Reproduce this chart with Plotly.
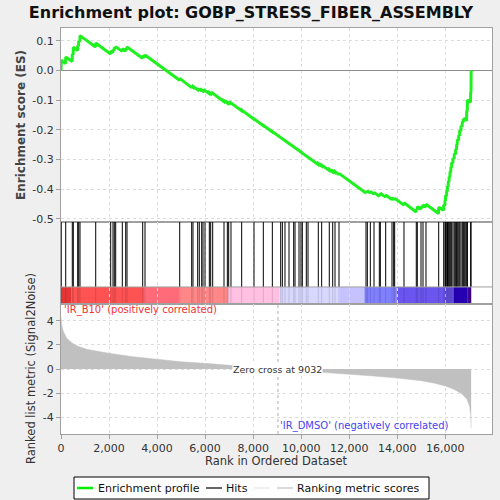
import plotly.graph_objects as go

TITLE = "Enrichment plot: GOBP_STRESS_FIBER_ASSEMBLY"
N_GENES = 17075
ZERO_CROSS = 9032

# Running enrichment score (rank, ES)
ES_RANK = [0, 10, 190, 196, 465, 470, 507, 512, 690, 695, 732, 737, 786, 791,
           1440, 1445, 2064, 2069, 2160, 2165, 2214, 2219, 2272, 2277, 2547, 2552,
           2689, 2694, 2743, 2748, 3396, 3401, 3492, 3497, 4937, 4942, 5436, 5441,
           5490, 5495, 5686, 5691, 5752, 5757, 5852, 5857, 5906, 5911, 5990, 5995,
           6170, 6175, 6227, 6232, 6310, 6315, 6781, 6786, 6920, 6925, 6975, 6980,
           7072, 7077, 7517, 7522, 8030, 8035, 8418, 8423, 8793, 8798, 9141, 9146,
           9215, 9325, 9492, 9687, 9742, 9908, 9991, 10047, 10213, 10283,
           10707, 10712, 10847, 10852, 11164, 11169, 11306, 11311, 11402, 11407,
           11569, 11574, 12693, 12698, 12748, 12753, 12873, 12878, 13026, 13031,
           13247, 13252, 13289, 13294, 13512, 13517, 13775, 13780, 13844, 13849,
           13886, 13891, 14274, 14279, 14786, 14791, 14828, 14833, 14982, 14987,
           15066, 15071, 15190, 15195, 15719, 15724, 15927, 15932, 15981, 15986,
           16005, 16010, 16052, 16057, 16085, 16090, 16119, 16124, 16155, 16160,
           16190, 16195, 16225, 16230, 16261, 16266, 16315, 16320, 16369, 16374,
           16425, 16430, 16465, 16470, 16494, 16499, 16553, 16558, 16595, 16600,
           16647, 16652, 16702, 16707, 16745, 16750, 16786, 16791, 16845, 16850,
           16885, 16890, 16915, 16920, 17050, 17056, 17070, 17075]
ES_VALUE = [0.000, 0.034, 0.023, 0.045, 0.030, 0.055, 0.053, 0.078, 0.067, 0.084, 0.082, 0.100, 0.097, 0.117,
            0.079, 0.092, 0.055, 0.065, 0.060, 0.070, 0.067, 0.077, 0.074, 0.080, 0.064, 0.073,
            0.065, 0.074, 0.071, 0.079, 0.041, 0.049, 0.044, 0.052, -0.033, -0.027, -0.058, -0.054,
            -0.057, -0.054, -0.065, -0.062, -0.066, -0.063, -0.069, -0.066, -0.069, -0.066, -0.071, -0.068,
            -0.078, -0.075, -0.078, -0.075, -0.080, -0.077, -0.105, -0.102, -0.110, -0.107, -0.110, -0.107,
            -0.113, -0.110, -0.136, -0.134, -0.164, -0.163, -0.186, -0.185, -0.207, -0.206, -0.226, -0.226,
            -0.230, -0.236, -0.246, -0.257, -0.261, -0.270, -0.275, -0.279, -0.288, -0.292,
            -0.317, -0.314, -0.322, -0.319, -0.337, -0.334, -0.342, -0.339, -0.344, -0.341,
            -0.351, -0.347, -0.413, -0.408, -0.411, -0.406, -0.413, -0.408, -0.417, -0.411,
            -0.424, -0.418, -0.420, -0.414, -0.427, -0.420, -0.435, -0.428, -0.437, -0.431,
            -0.436, -0.431, -0.454, -0.446, -0.477, -0.467, -0.469, -0.459, -0.468, -0.458,
            -0.463, -0.453, -0.460, -0.451, -0.482, -0.461, -0.471, -0.453, -0.456, -0.438,
            -0.439, -0.421, -0.424, -0.406, -0.408, -0.390, -0.392, -0.374, -0.376, -0.358,
            -0.360, -0.342, -0.344, -0.326, -0.328, -0.310, -0.313, -0.295, -0.298, -0.280,
            -0.283, -0.265, -0.267, -0.249, -0.251, -0.233, -0.236, -0.218, -0.220, -0.202,
            -0.205, -0.187, -0.190, -0.172, -0.175, -0.165, -0.167, -0.160, -0.164, -0.166,
            -0.170, -0.135, -0.137, -0.100, -0.107, -0.072, -0.073, 0.000]

# Positions of the gene-set members in the ranked list
HIT_RANKS = [10, 196, 470, 512, 695, 737, 791, 1445, 2069, 2165, 2219, 2277, 2552, 2694, 2748,
             3401, 3497, 4942, 5441, 5495, 5691, 5757, 5857, 5911, 5995, 6175, 6232, 6315,
             6786, 6925, 6980, 7077, 7522, 8035, 8423, 8798, 9146, 9215, 9325, 9492, 9687,
             9742, 9908, 9991, 10047, 10213, 10283, 10712, 10852, 11169, 11311, 11407, 11574,
             12698, 12753, 12878, 13031, 13252, 13294, 13517, 13780, 13849, 13891, 14279,
             14791, 14833, 14987, 15071, 15195, 15724, 15932, 15986, 16010, 16057, 16090,
             16124, 16160, 16195, 16230, 16266, 16320, 16374, 16430, 16470, 16499, 16558,
             16600, 16652, 16707, 16750, 16791, 16850, 16890, 16920, 17056, 17070]

# Ranked list metric (Signal2Noise) sampled along the ranking
METRIC_RANK = [0, 10, 30, 100, 240, 450, 650, 1070, 1620, 2000, 3000, 4000, 5000, 6000, 7000,
               8000, 9032, 10000, 11000, 12000, 13000, 14000, 15000, 15560, 16000, 16350,
               16700, 16900, 17010, 17060, 17075]
METRIC_VALUE = [4.3, 4.0, 3.6, 3.1, 2.54, 2.18, 1.93, 1.63, 1.43, 1.30, 1.02, 0.80, 0.60, 0.47, 0.30,
                0.16, 0.0, -0.17, -0.30, -0.41, -0.58, -0.75, -0.97, -1.19, -1.40, -1.68,
                -2.07, -2.50, -3.10, -3.90, -4.90]

# Colour band along the ranking (segment edges and colours)
BAND_EDGES = [0, 420, 3455, 4940, 6950, 9090, 11615, 12630, 13975, 16335, 16930, 17075]
BAND_COLORS = ["#e63535", "#ff5252", "#ff6b78", "#ff8787", "#ffc0e2", "#d8d8ff",
               "#c6c2ff", "#8080ff", "#6a55ee", "#2a00c8", "#42009a"]

ES_TICKS = [0.1, 0.0, -0.1, -0.2, -0.3, -0.4, -0.5]
METRIC_TICKS = [4, 2, 0, -2, -4]
X_TICKS = [0, 2000, 4000, 6000, 8000, 10000, 12000, 14000, 16000]

# Legend entries: label and line colour
LEGEND_LABELS = ["Enrichment profile", "Hits", "", "Ranking metric scores"]
LEGEND_COLORS = ["#00ee00", "#000000", "#e6e6e6", "#c0c0c0"]
LEGEND_WIDTHS = [2.5, 1.2, 1.2, 1.2]

FONT = "DejaVu Sans"
GRID = "#dcdcdc"
GRIDDASH = "3px,3px"
AXLINE = "#a0a0a0"
BG = "#efefef"
W = H = 500.0


def fx(p):
    return p / W


def fy(p):
    return 1 - p / H


fig = go.Figure()

# metric area
fig.add_trace(go.Scatter(x=METRIC_RANK, y=METRIC_VALUE, mode="lines", fill="tozeroy",
                         fillcolor="#c0c0c0", line=dict(color="#c0c0c0", width=0.5),
                         xaxis="x3", yaxis="y3", showlegend=False, hoverinfo="skip"))

# hits
hx, hy, bx, by = [], [], [], []
for h in HIT_RANKS:
    hx += [h, h, None]
    hy += [0.207, 1.0, None]
    bx += [h, h, None]
    by += [0.0, 0.207, None]
fig.add_trace(go.Scatter(x=bx, y=by, mode="lines", line=dict(color="rgba(0,0,0,0.13)", width=1),
                         xaxis="x2", yaxis="y2", showlegend=False, hoverinfo="skip"))
fig.add_trace(go.Scatter(x=hx, y=hy, mode="lines", line=dict(color="black", width=1), name="Hits",
                         xaxis="x2", yaxis="y2", showlegend=False, hoverinfo="skip"))

# enrichment profile
fig.add_trace(go.Scatter(x=ES_RANK, y=ES_VALUE, mode="lines", name="Enrichment profile",
                         line=dict(color="#1ff01f", width=3), xaxis="x", yaxis="y",
                         showlegend=False))

xdom = [fx(61), fx(492)]
shapes = []
for i, c in enumerate(BAND_COLORS):
    shapes.append(dict(type="rect", xref="x2", yref="y2", x0=BAND_EDGES[i], x1=BAND_EDGES[i + 1],
                       y0=0, y1=0.207, fillcolor=c, line=dict(width=0), layer="below"))
shapes.append(dict(type="line", xref="paper", yref="y2", x0=xdom[0], x1=xdom[1], y0=0.207, y1=0.207,
                   line=dict(color=AXLINE, width=1)))
shapes.append(dict(type="line", xref="x3", yref="y3", x0=ZERO_CROSS, x1=ZERO_CROSS, y0=-5.385, y1=5.385,
                   line=dict(color="#b0b0b0", width=1, dash="3px,3px"), layer="below"))

# legend box (drawn in paper space)
LEG_X0, LEG_X1, LEG_Y0, LEG_Y1 = 74, 429, 477, 499
shapes.append(dict(type="rect", xref="paper", yref="paper", x0=fx(LEG_X0), x1=fx(LEG_X1),
                   y0=fy(LEG_Y1), y1=fy(LEG_Y0), fillcolor="white",
                   line=dict(color="black", width=1)))
leg_line_x = [77, 206, 254, 277]
leg_text_x = [96, 224, 270, 295]
leg_y = fy(488)
annotations = []
for i, lab in enumerate(LEGEND_LABELS):
    shapes.append(dict(type="line", xref="paper", yref="paper", x0=fx(leg_line_x[i]),
                       x1=fx(leg_line_x[i] + 16), y0=leg_y, y1=leg_y,
                       line=dict(color=LEGEND_COLORS[i], width=LEGEND_WIDTHS[i])))
    if lab:
        annotations.append(dict(text=lab, xref="paper", yref="paper", x=fx(leg_text_x[i]), y=leg_y,
                                xanchor="left", yanchor="middle", showarrow=False,
                                font=dict(size=11, color="#111111")))

annotations += [
    dict(text="<b>Enrichment score (ES)</b>", xref="paper", yref="paper", x=fx(21), y=fy(125),
         xanchor="center", yanchor="middle",
         textangle=-90, showarrow=False, font=dict(size=12, color="#444444")),
    dict(text="Ranked list metric (Signal2Noise)", xref="paper", yref="paper", x=fx(31), y=fy(369),
         xanchor="center", yanchor="middle",
         textangle=-90, showarrow=False, font=dict(size=11.5, color="#333333")),
    dict(text="Rank in Ordered Dataset", xref="paper", yref="paper", x=fx(276.5), y=fy(461),
         xanchor="center", yanchor="middle",
         showarrow=False, font=dict(size=11.5, color="#333333")),
    dict(text="'IR_B10' (positively correlated)", xref="x3", yref="y3", x=0, y=4.85,
         xanchor="left", yanchor="middle", xshift=1, showarrow=False, font=dict(size=10, color="#ee3333")),
    dict(text="'IR_DMSO' (negatively correlated)", xref="x3", yref="y3", x=ZERO_CROSS, y=-4.7,
         xanchor="left", yanchor="middle", showarrow=False, font=dict(size=10, color="#4444ee")),
    dict(text="Zero cross at " + str(ZERO_CROSS), xref="x3", yref="y3", x=ZERO_CROSS, y=0,
         xanchor="center", yanchor="middle", showarrow=False, bgcolor="white", borderpad=0,
         font=dict(size=9.5, color="#333333")),
]

xcommon = dict(domain=xdom, range=[0, 17943], showgrid=True, gridcolor=GRID, griddash=GRIDDASH,
               tickvals=X_TICKS, showline=True, mirror=True, linecolor=AXLINE, zeroline=False,
               automargin=False)

fig.update_layout(
    width=500, height=500,
    margin=dict(l=0, r=0, t=0, b=0, autoexpand=False),
    paper_bgcolor=BG, plot_bgcolor="white",
    font=dict(family=FONT, color="#333333", size=11),
    showlegend=False,
    title=dict(text="<b>" + TITLE + "</b>", x=0.502, xanchor="center", y=fy(12.5), yanchor="middle",
               font=dict(family=FONT, size=16, color="#111111")),
    xaxis=dict(**xcommon, anchor="y", showticklabels=False, ticks=""),
    xaxis2=dict(**xcommon, anchor="y2", matches="x", showticklabels=False, ticks=""),
    xaxis3=dict(**xcommon, anchor="y3", matches="x", ticks="outside", ticklen=4, tickcolor=AXLINE,
                ticktext=[f"{v:,}" for v in X_TICKS], tickfont=dict(size=11, color="#333333")),
    yaxis=dict(domain=[fy(221.7), fy(27.7)], range=[-0.5098, 0.1438], tickvals=ES_TICKS,
               ticktext=[f"{v:.1f}".replace("-0.0", "0.0") for v in ES_TICKS],
               showgrid=True, gridcolor=GRID, griddash=GRIDDASH, zeroline=True, zerolinecolor="#8c8c8c",
               zerolinewidth=1, showline=True, mirror=True, linecolor=AXLINE, ticks="outside",
               ticklen=4, tickcolor=AXLINE, tickfont=dict(size=11, color="#333333"), anchor="x",
               automargin=False),
    yaxis2=dict(domain=[fy(304), fy(221.7)], range=[0, 1], showgrid=False, zeroline=False,
                showticklabels=False, ticks="", showline=True, mirror=True, linecolor=AXLINE, anchor="x2",
                automargin=False),
    yaxis3=dict(domain=[fy(434), fy(304)], range=[-5.385, 5.385], tickvals=METRIC_TICKS,
                ticktext=[str(v) for v in METRIC_TICKS], showgrid=True, gridcolor=GRID, griddash=GRIDDASH,
                zeroline=False, showline=True, mirror=True, linecolor=AXLINE, ticks="outside",
                ticklen=4, tickcolor=AXLINE, tickfont=dict(size=11, color="#333333"), anchor="x3",
                automargin=False),
    shapes=shapes,
    annotations=annotations,
)

fig.write_html("out.html", config={"displayModeBar": False},
               post_script="document.body.style.margin='0';document.body.style.background='" + BG + "';"
                           "document.documentElement.style.overflow='hidden';")
